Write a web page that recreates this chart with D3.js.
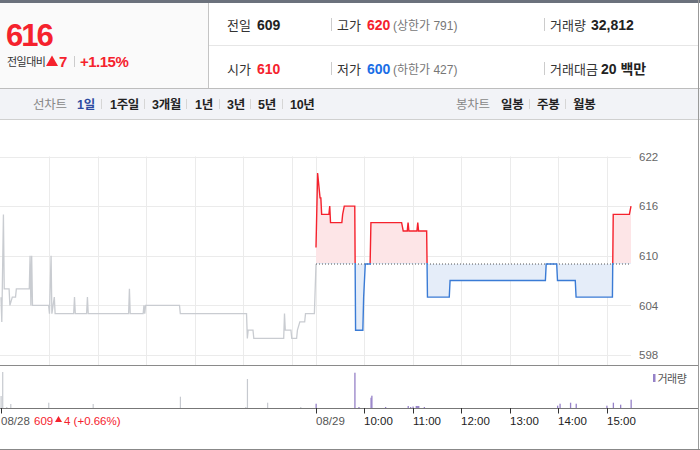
<!DOCTYPE html>
<html><head><meta charset="utf-8">
<script src="https://cdn.jsdelivr.net/npm/d3@7"></script>
<style>
html,body{margin:0;padding:0;background:#fff;}
svg{display:block;font-family:"Liberation Sans","Noto Sans CJK KR",sans-serif;}
</style></head>
<body><svg id="c" width="700" height="450"></svg>
<script>
// ---------- data ----------
const prevTimes  = ["09:00","09:01","09:03","09:04","09:10","09:11","09:14","09:18","09:19","09:35","09:36","09:37","09:38","09:39","09:59","10:00","10:02","10:03","10:06","10:07","10:30","10:31","10:32","10:46","10:47","10:48","11:38","11:39","11:40","11:56","11:57","11:58","11:59","12:41","12:42","14:04","14:05","14:06","14:12","14:13","14:50","14:51","14:52","14:59","15:00","15:06","15:07","15:10","15:16","15:17","15:28","15:30"];
const prevPrices = [605,602,615,606,606,604,605,605,606,606,610,604,610,604,604,603,610,603,605,603,603,605,603,603,605,603,603,606,603,603,604,603,604,604,603,603,600,601,601,600,600,603,601,601,600,600,601,602,602,603,603,609];
const todayTimes  = ["09:00","09:02","09:05","09:06","09:07","09:16","09:17","09:18","09:32","09:33","09:35","09:48","09:49","09:58","09:59","10:01","10:07","10:08","10:46","10:48","10:53","10:54","10:55","11:05","11:06","11:07","11:17","11:18","11:45","11:46","13:44","13:45","13:58","13:59","14:21","14:22","15:07","15:08","15:28","15:30"];
const todayPrices = [611,620,617,617,615,615,616,614,614,615,616,616,601,601,605,609,609,614,614,613,613,614,613,613,614,613,613,605,605,607,607,609,609,607,607,605,605,615,615,616];
const prevVolTimes  = ["09:00","09:02","09:07","09:12","09:59","10:54","12:42","14:03","14:05","14:30","15:11"];
const prevVols      = [2860,8570,240,950,1260,950,2690,240,6900,1260,240];
const todayVolTimes = ["09:00","09:48","09:53","10:08","10:09","10:26","10:54","10:57","11:00","11:04","11:05","11:06","11:07","11:14","13:59","14:02","14:15","14:22","15:00","15:08","15:17","15:30"];
const todayVols     = [1020,8400,240,2450,2930,240,480,240,360,480,480,480,480,240,550,1020,1260,1020,550,1260,790,1980];
const priceTicks = [598,604,610,616,622];
const prevClose = 609;
const dayLabels = ["08/28","08/29"];
const hourLabels = ["10:00","11:00","12:00","13:00","14:00","15:00"];

// ---------- helpers ----------
const svg = d3.select("#c");
const tm = (t, day) => { const [h,m] = t.split(":").map(Number); return day*390 + (h-9)*60 + m; };
const x = d3.scaleLinear().domain([0,780]).range([1,631]);
const y = d3.scaleLinear().domain([598,622]).range([355,156.5]);
const v = d3.scaleLinear().domain([0,10000]).range([408,366]);
const prevData = prevTimes.map((t,i)=>({m:tm(t,0),p:prevPrices[i]}));
const todayData = todayTimes.map((t,i)=>({m:tm(t,1),p:todayPrices[i]}));
const yb = y(prevClose);

const RED="#f5222d", BLUE="#3a7bd5", DARK="#222";

// ---------- header ----------
svg.append("rect").attr("x",0).attr("y",3).attr("width",208).attr("height",85).attr("fill","#fafafa");
svg.append("rect").attr("x",0).attr("y",0).attr("width",700).attr("height",3).attr("fill","#6b717c");
svg.append("line").attr("x1",208.5).attr("x2",208.5).attr("y1",3).attr("y2",88).attr("stroke","#c4c4c4");
svg.append("line").attr("x1",209).attr("x2",698).attr("y1",45.5).attr("y2",45.5).attr("stroke","#e6e6e6");
svg.append("line").attr("x1",0).attr("x2",700).attr("y1",88.5).attr("y2",88.5).attr("stroke","#bdbdbd");

svg.append("text").attr("x",6).attr("y",46).attr("fill",RED).attr("font-size",31).attr("font-weight","bold").attr("letter-spacing",-2).text("616");
svg.append("text").attr("x",7).attr("y",66).attr("fill","#333").attr("font-size",11).attr("letter-spacing",-0.5).text("전일대비");
svg.append("path").attr("d","M46,66 L52,55.5 L58,66 Z").attr("fill",RED);
svg.append("text").attr("x",59).attr("y",67).attr("fill",RED).attr("font-size",15).attr("font-weight","bold").text("7");
svg.append("line").attr("x1",74.5).attr("x2",74.5).attr("y1",56).attr("y2",67).attr("stroke","#ccc");
svg.append("text").attr("x",80).attr("y",67).attr("fill",RED).attr("font-size",15).attr("font-weight","bold").attr("letter-spacing",-0.5).text("+1.15%");

function hText(xx, yy, txt, opt={}) {
  return svg.append("text").attr("x",xx).attr("y",yy).attr("fill",opt.fill||"#333")
    .attr("font-size",opt.size||13).attr("font-weight",opt.bold?"bold":"normal").text(txt);
}
[[29.5],[73.5]].forEach(()=>{});
hText(227,29.5,"전일");  hText(257,29.5,"609",{bold:true,fill:DARK,size:14});
hText(337,29.5,"고가");  hText(367,29.5,"620",{bold:true,fill:RED,size:14}); hText(393,29.5,"(상한가 791)",{fill:"#777",size:12});
hText(550,29.5,"거래량"); hText(591,29.5,"32,812",{bold:true,fill:DARK,size:14});
hText(227,73.5,"시가");  hText(257,73.5,"610",{bold:true,fill:RED,size:14});
hText(337,73.5,"저가");  hText(367,73.5,"600",{bold:true,fill:"#1a6ee6",size:14}); hText(393,73.5,"(하한가 427)",{fill:"#777",size:12});
hText(550,73.5,"거래대금"); hText(601,73.5,"20 백만",{bold:true,fill:DARK,size:14});
[331.5,544.5].forEach(sx=>{
  svg.append("line").attr("x1",sx).attr("x2",sx).attr("y1",18).attr("y2",31).attr("stroke","#ccc");
  svg.append("line").attr("x1",sx).attr("x2",sx).attr("y1",62).attr("y2",75).attr("stroke","#ccc");
});

// ---------- tab bar ----------
svg.append("rect").attr("x",0).attr("y",89).attr("width",700).attr("height",30).attr("fill","#f2f3f7");
svg.append("line").attr("x1",0).attr("x2",700).attr("y1",119.5).attr("y2",119.5).attr("stroke","#d0d0d0");
const tabs = [["선차트",33,"#888",false],["1일",77,"#2c4aa0",true],["1주일",110,DARK,true],["3개월",152,DARK,true],["1년",195,DARK,true],["3년",227,DARK,true],["5년",258,DARK,true],["10년",290,DARK,true],
              ["봉차트",456,"#888",false],["일봉",501,DARK,true],["주봉",537,DARK,true],["월봉",573,DARK,true]];
tabs.forEach(([t,tx,c,b])=>{ svg.append("text").attr("x",tx).attr("y",108.5).attr("fill",c).attr("font-size",12.5).attr("font-weight",b?"bold":"normal").attr("letter-spacing",-0.3).text(t); });
[101.5,144.5,186.5,219.5,250.5,282.5,529.5,565.5].forEach(sx=>{
  svg.append("line").attr("x1",sx).attr("x2",sx).attr("y1",99).attr("y2",109).attr("stroke","#d6d6d6");
});

// ---------- price panel ----------
const grid = svg.append("g");
priceTicks.forEach(p=>{
  grid.append("line").attr("x1",0).attr("x2",631).attr("y1",Math.round(y(p))+0.5).attr("y2",Math.round(y(p))+0.5).attr("stroke","#ebebeb");
});
const vTicks = [];
for (let d=0; d<2; d++) for (let h=10; h<=15; h++) vTicks.push(d*390+(h-9)*60);
vTicks.push(390);
vTicks.forEach(m=>{
  grid.append("line").attr("x1",Math.round(x(m))+0.5).attr("x2",Math.round(x(m))+0.5).attr("y1",156.5).attr("y2",365).attr("stroke","#ebebeb");
});
// right axis
const yAxis = d3.axisRight(y).tickValues(priceTicks).tickSize(0).tickPadding(0);
const ya = svg.append("g").attr("transform","translate(639,0)").call(yAxis);
ya.select(".domain").remove();
ya.selectAll("text").attr("fill","#666").attr("font-size",11.5).attr("font-family","Liberation Sans, sans-serif");

// clips
const defs = svg.append("defs");
defs.append("clipPath").attr("id","up").append("rect").attr("x",0).attr("y",0).attr("width",700).attr("height",yb-1);
defs.append("clipPath").attr("id","dn").append("rect").attr("x",0).attr("y",yb-1).attr("width",700).attr("height",450-yb);

const area = d3.area().x(d=>x(d.m)).y0(yb).y1(d=>y(d.p));
const line = d3.line().x(d=>x(d.m)).y(d=>y(d.p));
svg.append("path").datum(todayData).attr("d",area).attr("fill","#fde5e7").attr("clip-path","url(#up)");
svg.append("path").datum(todayData).attr("d",area).attr("fill","#e5edf9").attr("clip-path","url(#dn)");
svg.append("path").datum(prevData).attr("d",line).attr("fill","none").attr("stroke","#c9ccd1").attr("stroke-width",1.3);
svg.append("line").attr("x1",x(390)).attr("x2",631).attr("y1",yb).attr("y2",yb).attr("stroke","#555").attr("stroke-dasharray","1,2");
svg.append("path").datum(todayData).attr("d",line).attr("fill","none").attr("stroke",RED).attr("stroke-width",1.4).attr("clip-path","url(#up)");
svg.append("path").datum(todayData).attr("d",line).attr("fill","none").attr("stroke",BLUE).attr("stroke-width",1.4).attr("clip-path","url(#dn)");

// panel border
svg.append("line").attr("x1",0).attr("x2",698).attr("y1",365.5).attr("y2",365.5).attr("stroke","#8a8a8a");

// ---------- volume ----------
const vg = svg.append("g");
prevVolTimes.forEach((t,i)=>{
  const m = tm(t,0);
  vg.append("rect").attr("x",x(m)-0.5).attr("width",1.2).attr("y",v(prevVols[i])).attr("height",408-v(prevVols[i])).attr("fill","#c6c9cf");
});
todayVolTimes.forEach((t,i)=>{
  const m = tm(t,1);
  vg.append("rect").attr("x",x(m)-0.5).attr("width",1.3).attr("y",v(todayVols[i])).attr("height",408-v(todayVols[i])).attr("fill","#9682c8");
});
svg.append("rect").attr("x",653).attr("y",374).attr("width",2.5).attr("height",8).attr("fill","#9682c8");
svg.append("text").attr("x",657.5).attr("y",382.5).attr("fill","#555").attr("font-size",11).attr("letter-spacing",-0.5).text("거래량");

// ---------- x axis ----------
svg.append("line").attr("x1",0).attr("x2",698).attr("y1",408.5).attr("y2",408.5).attr("stroke","#777");
const xt = svg.append("g");
const tickList = [{m:0,t:dayLabels[0],c:"#555"},{m:390,t:dayLabels[1],c:"#555"}]
  .concat(hourLabels.map((h,i)=>({m:390+(i+1)*60,t:h,c:DARK})));
tickList.forEach(d=>{
  const px = Math.round(x(d.m))+0.5;
  xt.append("line").attr("x1",px).attr("x2",px).attr("y1",408).attr("y2",413.5).attr("stroke","#333");
  xt.append("text").attr("x",px-0.5).attr("y",424.5).attr("fill",d.c).attr("font-size",11.5).text(d.t);
});
// previous close note
const note = svg.append("text").attr("x",34).attr("y",424.5).attr("font-size",11.5).attr("fill",RED);
note.text("609");
svg.append("path").attr("d","M55,422 L58.5,416 L62,422 Z").attr("fill",RED);
svg.append("text").attr("x",64).attr("y",424.5).attr("font-size",11.5).attr("fill",RED).text("4 (+0.66%)");

// outer borders
svg.append("line").attr("x1",698.5).attr("x2",698.5).attr("y1",0).attr("y2",450).attr("stroke","#999");
svg.append("line").attr("x1",0).attr("x2",700).attr("y1",449.5).attr("y2",449.5).attr("stroke","#888");
</script></body></html>
